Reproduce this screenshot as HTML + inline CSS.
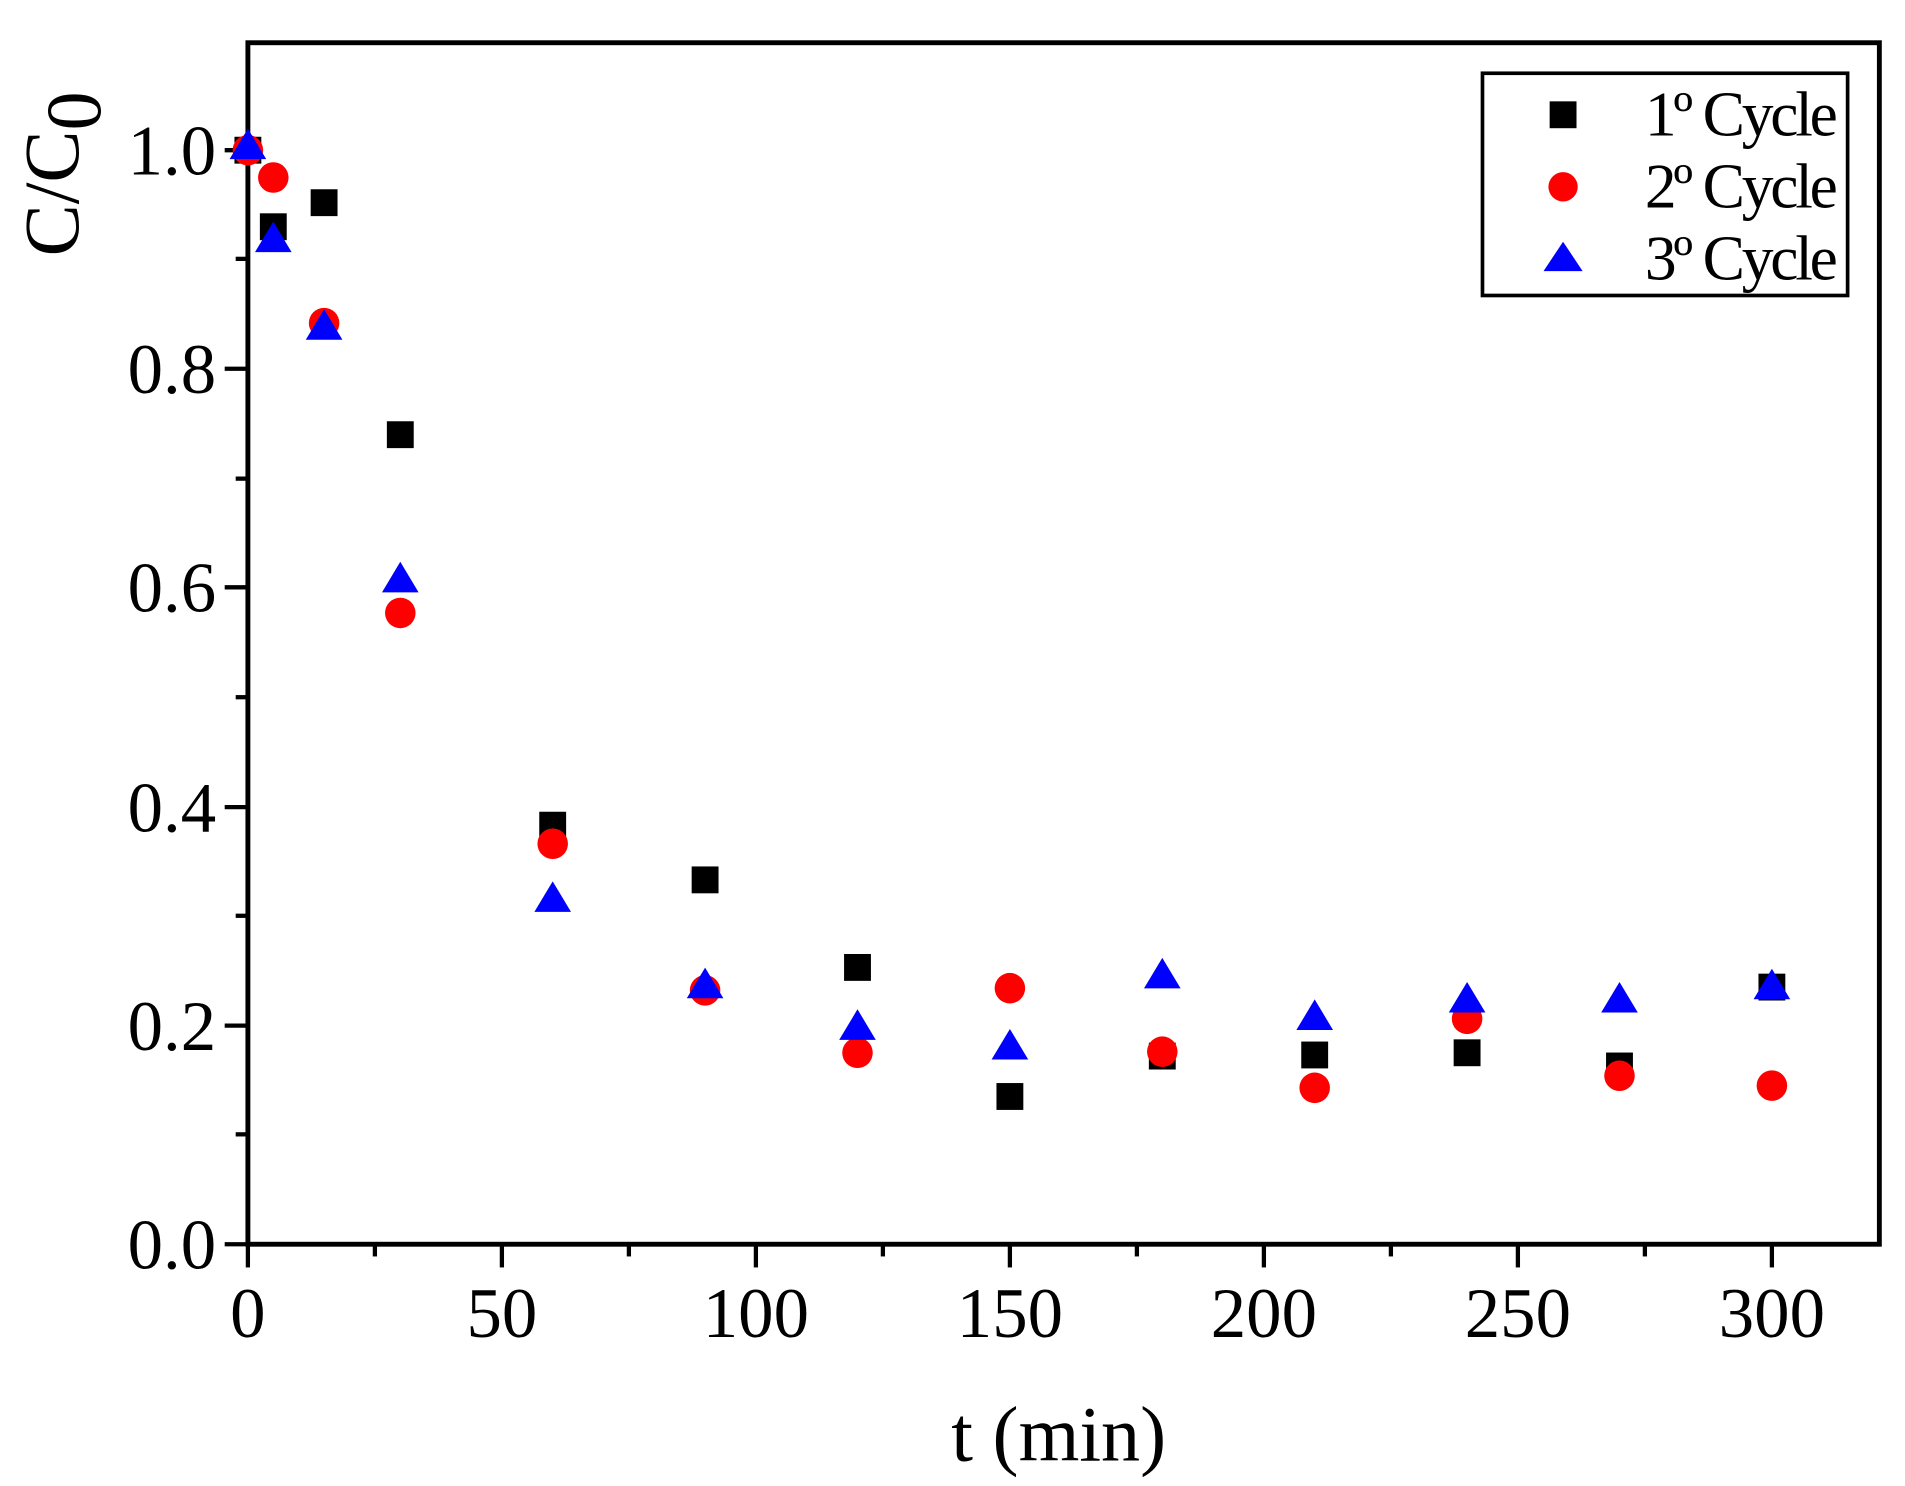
<!DOCTYPE html>
<html><head><meta charset="utf-8"><style>
html,body{margin:0;padding:0;background:#fff;}
svg{display:block;}
text{font-family:"Liberation Serif",serif;fill:#000;}
</style></head><body>
<svg width="1905" height="1486" viewBox="0 0 1560 1217" preserveAspectRatio="none" xmlns="http://www.w3.org/2000/svg">
<rect x="0" y="0" width="1560" height="1217" fill="#fff"/>
<rect x="203" y="35" width="1336" height="984" fill="none" stroke="#000" stroke-width="4"/>
<g stroke="#000" stroke-width="3.5">
<line x1="203" y1="1019" x2="203" y2="1038"/>
<line x1="411" y1="1019" x2="411" y2="1038"/>
<line x1="619" y1="1019" x2="619" y2="1038"/>
<line x1="827" y1="1019" x2="827" y2="1038"/>
<line x1="1035" y1="1019" x2="1035" y2="1038"/>
<line x1="1243" y1="1019" x2="1243" y2="1038"/>
<line x1="1451" y1="1019" x2="1451" y2="1038"/>
<line x1="307" y1="1019" x2="307" y2="1029"/>
<line x1="515" y1="1019" x2="515" y2="1029"/>
<line x1="723" y1="1019" x2="723" y2="1029"/>
<line x1="931" y1="1019" x2="931" y2="1029"/>
<line x1="1139" y1="1019" x2="1139" y2="1029"/>
<line x1="1347" y1="1019" x2="1347" y2="1029"/>
<line x1="203" y1="1019" x2="184" y2="1019"/>
<line x1="203" y1="840" x2="184" y2="840"/>
<line x1="203" y1="661" x2="184" y2="661"/>
<line x1="203" y1="481" x2="184" y2="481"/>
<line x1="203" y1="302" x2="184" y2="302"/>
<line x1="203" y1="123" x2="184" y2="123"/>
<line x1="203" y1="929" x2="193" y2="929"/>
<line x1="203" y1="750" x2="193" y2="750"/>
<line x1="203" y1="571" x2="193" y2="571"/>
<line x1="203" y1="392" x2="193" y2="392"/>
<line x1="203" y1="212" x2="193" y2="212"/>
</g>
<g font-size="58" text-anchor="middle">
<text x="203" y="1095">0</text>
<text x="411" y="1095">50</text>
<text x="619" y="1095">100</text>
<text x="827" y="1095">150</text>
<text x="1035" y="1095">200</text>
<text x="1243" y="1095">250</text>
<text x="1451" y="1095">300</text>
</g>
<g font-size="58" text-anchor="end">
<text x="177" y="1039">0.0</text>
<text x="177" y="860">0.2</text>
<text x="177" y="681">0.4</text>
<text x="177" y="501">0.6</text>
<text x="177" y="322">0.8</text>
<text x="177" y="143">1.0</text>
</g>
<text x="867" y="1196" font-size="64" text-anchor="middle">t (min)</text>
<g transform="translate(64,210) rotate(-90)">
<text x="0" y="0" font-size="64">C/C<tspan dy="18">0</tspan></text>
</g>
<rect x="1214" y="60" width="299" height="182" fill="#fff" stroke="#000" stroke-width="3"/>
<rect x="1269" y="83" width="22" height="22" fill="#000"/>
<circle cx="1280" cy="153" r="12" fill="#f00"/>
<polygon points="1280,198 1264,222 1296,222" fill="#00f"/>
<g font-size="52">
<text x="1347" y="111" textLength="158">1º Cycle</text>
<text x="1347" y="170" textLength="158">2º Cycle</text>
<text x="1347" y="229" textLength="158">3º Cycle</text>
</g>
<g fill="#000">
<rect x="192" y="112" width="22" height="22"/>
<rect x="212.8" y="174.7" width="22" height="22"/>
<rect x="254.4" y="155" width="22" height="22"/>
<rect x="316.8" y="345" width="22" height="22"/>
<rect x="441.6" y="664.8" width="22" height="22"/>
<rect x="566.4" y="709.6" width="22" height="22"/>
<rect x="691.2" y="781.3" width="22" height="22"/>
<rect x="816" y="887" width="22" height="22"/>
<rect x="940.8" y="853.9" width="22" height="22"/>
<rect x="1065.6" y="853" width="22" height="22"/>
<rect x="1190.4" y="851.2" width="22" height="22"/>
<rect x="1315.2" y="862" width="22" height="22"/>
<rect x="1440" y="797.4" width="22" height="22"/>
</g>
<g fill="#f00">
<circle cx="203" cy="123" r="12.5"/>
<circle cx="223.8" cy="145.4" r="12.5"/>
<circle cx="265.4" cy="264.6" r="12.5"/>
<circle cx="327.8" cy="502" r="12.5"/>
<circle cx="452.6" cy="691" r="12.5"/>
<circle cx="577.4" cy="811.1" r="12.5"/>
<circle cx="702.2" cy="862.2" r="12.5"/>
<circle cx="827" cy="809.3" r="12.5"/>
<circle cx="951.8" cy="861.3" r="12.5"/>
<circle cx="1076.6" cy="890.9" r="12.5"/>
<circle cx="1201.4" cy="834.4" r="12.5"/>
<circle cx="1326.2" cy="881" r="12.5"/>
<circle cx="1451" cy="889.1" r="12.5"/>
</g>
<g fill="#00f">
<polygon points="203,105.3 188,130.3 218,130.3"/>
<polygon points="223.8,181.5 208.8,206.5 238.8,206.5"/>
<polygon points="265.4,253.2 250.4,278.2 280.4,278.2"/>
<polygon points="327.8,460.1 312.8,485.1 342.8,485.1"/>
<polygon points="452.6,721.8 437.6,746.8 467.6,746.8"/>
<polygon points="577.4,792.5 562.4,817.5 592.4,817.5"/>
<polygon points="702.2,826.6 687.2,851.6 717.2,851.6"/>
<polygon points="827,842.7 812,867.7 842,867.7"/>
<polygon points="951.8,784.5 936.8,809.5 966.8,809.5"/>
<polygon points="1076.6,818.5 1061.6,843.5 1091.6,843.5"/>
<polygon points="1201.4,804.2 1186.4,829.2 1216.4,829.2"/>
<polygon points="1326.2,804.2 1311.2,829.2 1341.2,829.2"/>
<polygon points="1451,793.4 1436,818.4 1466,818.4"/>
</g>
</svg>
</body></html>
